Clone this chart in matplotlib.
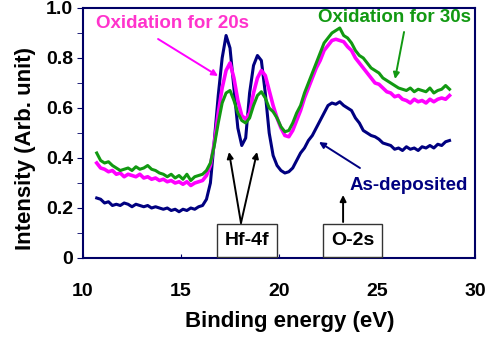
import numpy as np
import matplotlib
matplotlib.use("Agg")
import matplotlib.pyplot as plt

# ---- data ----
energy = np.round(np.linspace(10.7, 28.7, 91), 2)

as_deposited = [
    0.24, 0.235, 0.22, 0.225, 0.21, 0.215, 0.21, 0.22, 0.215, 0.205,
    0.215, 0.21, 0.205, 0.21, 0.20, 0.205, 0.20, 0.195, 0.20, 0.19,
    0.195, 0.185, 0.195, 0.19, 0.20, 0.195, 0.205, 0.21, 0.235, 0.30,
    0.47, 0.65, 0.80, 0.89, 0.84, 0.68, 0.52, 0.45, 0.48, 0.66,
    0.77, 0.81, 0.79, 0.66, 0.50, 0.41, 0.37, 0.35, 0.34, 0.345,
    0.36, 0.39, 0.42, 0.44, 0.47, 0.49, 0.52, 0.55, 0.58, 0.61,
    0.62, 0.615, 0.625, 0.61, 0.60, 0.59, 0.56, 0.54, 0.51, 0.50,
    0.49, 0.485, 0.475, 0.46, 0.455, 0.45, 0.435, 0.44, 0.43, 0.445,
    0.435, 0.44, 0.43, 0.445, 0.44, 0.45, 0.44, 0.455, 0.45, 0.465,
    0.47]

oxid_20s = [
    0.38, 0.36, 0.355, 0.345, 0.35, 0.335, 0.34, 0.325, 0.335, 0.33,
    0.325, 0.335, 0.32, 0.325, 0.315, 0.32, 0.31, 0.315, 0.305, 0.31,
    0.30, 0.305, 0.295, 0.305, 0.29, 0.30, 0.305, 0.31, 0.33, 0.37,
    0.46, 0.58, 0.68, 0.75, 0.78, 0.72, 0.63, 0.57, 0.555, 0.58,
    0.66, 0.72, 0.75, 0.73, 0.67, 0.61, 0.56, 0.52, 0.49, 0.485,
    0.51, 0.55, 0.59, 0.64, 0.68, 0.72, 0.76, 0.79, 0.83, 0.85,
    0.87, 0.875, 0.87, 0.865, 0.845, 0.83, 0.80, 0.78, 0.76, 0.74,
    0.72, 0.70, 0.695, 0.68, 0.665, 0.66, 0.645, 0.65, 0.635, 0.63,
    0.62, 0.635, 0.625, 0.63, 0.62, 0.635, 0.625, 0.635, 0.64, 0.635,
    0.65]

oxid_30s = [
    0.42, 0.39, 0.38, 0.385, 0.37, 0.36, 0.35, 0.355, 0.36, 0.35,
    0.365, 0.355, 0.36, 0.37, 0.355, 0.35, 0.34, 0.335, 0.325, 0.335,
    0.32, 0.33, 0.315, 0.335, 0.31, 0.325, 0.33, 0.335, 0.35, 0.38,
    0.45, 0.54, 0.62, 0.66, 0.67, 0.63, 0.58, 0.55, 0.54, 0.56,
    0.61, 0.65, 0.665, 0.64, 0.60, 0.585, 0.56, 0.525, 0.505, 0.51,
    0.54, 0.58, 0.61, 0.66, 0.70, 0.74, 0.78, 0.82, 0.86, 0.88,
    0.90, 0.91, 0.92, 0.89, 0.88, 0.86, 0.83, 0.81, 0.80, 0.78,
    0.76, 0.75, 0.74, 0.72, 0.71, 0.70, 0.69, 0.68, 0.675, 0.67,
    0.68, 0.665, 0.675, 0.67, 0.665, 0.68, 0.66, 0.67, 0.675, 0.69,
    0.675]

x_ticks = [10, 15, 20, 25, 30]
y_ticks = [0, 0.2, 0.4, 0.6, 0.8, 1.0]
y_tick_labels = ["0", "0.2", "0.4", "0.6", "0.8", "1.0"]

NAVY = "#000080"
MAGENTA = "#ff00ff"
MAGENTA_TXT = "#ff33cc"
GREEN = "#129912"

plt.rcParams['font.family'] = ['Liberation Sans', 'DejaVu Sans']
plt.rcParams['font.weight'] = 'bold'

fig = plt.figure(figsize=(4.94, 3.38), dpi=100)
ax = fig.add_axes([83/494, 1-258/338, (475-83)/494, (258-8)/338])

ax.plot(energy, as_deposited, color=NAVY, lw=2.2, zorder=3)
ax.plot(energy, oxid_20s, color=MAGENTA, lw=2.6, zorder=3)
ax.plot(energy, oxid_30s, color=GREEN, lw=2.2, zorder=4)

ax.set_xlim(10, 30)
ax.set_ylim(0, 1.0)

for s in ax.spines.values():
    s.set_color("#000066")
    s.set_linewidth(1.5)

ax.set_xticks(x_ticks)
ax.set_xticklabels([str(t) for t in x_ticks], fontsize=14, fontweight='bold')
ax.set_yticks(y_ticks)
ax.set_yticklabels(y_tick_labels, fontsize=14, fontweight='bold')
ax.set_yticks([0.1, 0.3, 0.5, 0.7, 0.9], minor=True)
ax.tick_params(axis='x', direction='in', length=3, pad=18, color='#000066')
ax.tick_params(axis='y', which='both', direction='out', length=4, pad=3, color='#000066')

fig.text(290/494, 1-322/338, "Binding energy (eV)", fontsize=16, fontweight='bold',
         ha='center', va='center')
fig.text(25/494, 1-148/338, "Intensity (Arb. unit)", fontsize=16, fontweight='bold',
         ha='center', va='center', rotation=90)

# labels and arrows
ax.text(14.57, 0.94, "Oxidation for 20s", color=MAGENTA_TXT, fontsize=13.5,
        fontweight='bold', ha='center', va='center')
ax.text(25.87, 0.964, "Oxidation for 30s", color=GREEN, fontsize=13.5,
        fontweight='bold', ha='center', va='center')
ax.text(26.61, 0.292, "As-deposited", color=NAVY, fontsize=13.5,
        fontweight='bold', ha='center', va='center')

def arrow(x0, y0, x1, y1, color):
    ax.annotate("", xy=(x1, y1), xytext=(x0, y0),
                arrowprops=dict(arrowstyle='-|>', color=color, lw=1.4,
                                mutation_scale=9, shrinkA=0, shrinkB=0),
                zorder=5)

arrow(13.83, 0.876, 16.89, 0.728, MAGENTA)
arrow(26.38, 0.904, 25.92, 0.716, GREEN)
arrow(24.13, 0.36, 22.04, 0.464, NAVY)
arrow(18.06, 0.14, 17.45, 0.424, 'black')
arrow(18.06, 0.14, 18.88, 0.424, 'black')
arrow(23.27, 0.144, 23.27, 0.252, 'black')

box = dict(boxstyle='square,pad=0.4', facecolor='white', edgecolor='#333333', lw=1.0)
ax.text(18.37, 0.07, "Hf-4f", fontsize=14, fontweight='bold', ha='center', va='center',
        bbox=box, zorder=6)
ax.text(23.75, 0.07, "O-2s", fontsize=14, fontweight='bold', ha='center', va='center',
        bbox=box, zorder=6)

fig.savefig("out.png", dpi=100)
